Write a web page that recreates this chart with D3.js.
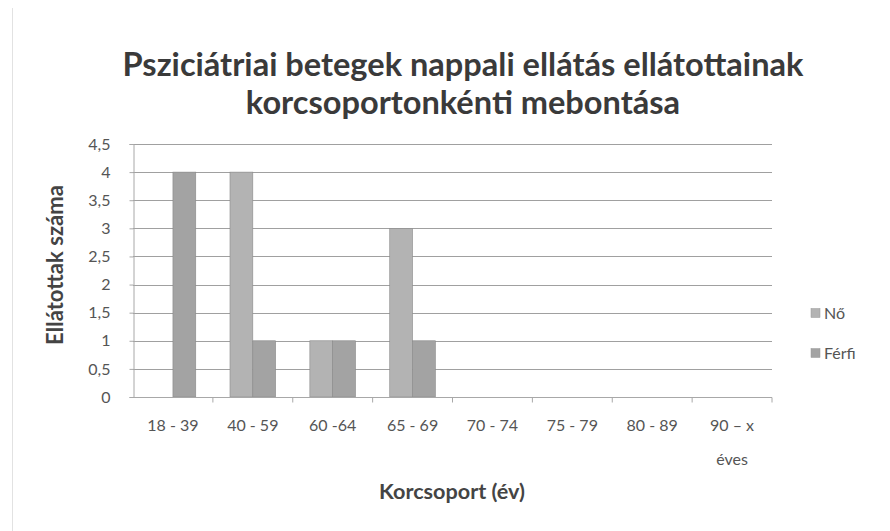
<!DOCTYPE html>
<html>
<head>
<meta charset="utf-8">
<script src="https://cdn.jsdelivr.net/npm/d3@7"></script>
<style>
  html, body { margin: 0; padding: 0; background: #fff; }
  svg { display: block; }
  text { font-family: Lato, "Open Sans", sans-serif; }
</style>
</head>
<body>
<svg id="chart" width="890" height="531"></svg>
<script>
// Age groups (the last one is split over two lines)
const categories = ["18 - 39", "40 - 59", "60 -64", "65 - 69", "70 - 74", "75 - 79", "80 - 89", "90 – x\néves"];
const seriesNames = ["Nő", "Férfi"];
const noValues = [0, 4, 1, 3, 0, 0, 0, 0];
const ferfiValues = [4, 1, 1, 1, 0, 0, 0, 0];
const yTicks = [0, 0.5, 1, 1.5, 2, 2.5, 3, 3.5, 4, 4.5];
const seriesColors = ["#b3b3b3", "#a3a3a3"];

const svg = d3.select("#chart");
const plot = { left: 133, right: 772, top: 144, bottom: 397 };

// Shrinks or grows a text's font until it spans the wanted width
function fitWidth(sel, width) {
  sel.each(function () {
    const t = d3.select(this);
    const fs = parseFloat(t.style("font-size"));
    const w = this.getComputedTextLength();
    t.style("font-size", (fs * width / w).toFixed(2) + "px");
  });
}

// Faint page edge on the left
svg.append("line")
  .attr("x1", 12.5).attr("x2", 12.5).attr("y1", 8).attr("y2", 531)
  .attr("stroke", "#e2e2e2").attr("stroke-width", 1);

const x = d3.scaleBand().domain(categories).range([plot.left, plot.right]).paddingInner(0).paddingOuter(0);
const y = d3.scaleLinear().domain([0, 4.5]).range([plot.bottom, plot.top]);

// Two bars per group with a 150% gap (0.75 bar width on each side)
const x1 = d3.scaleBand().domain(seriesNames).range([0, x.bandwidth()])
  .paddingInner(0).paddingOuter(0.75);

// Horizontal gridlines
svg.append("g").selectAll("line")
  .data(yTicks.filter(d => d > 0))
  .join("line")
  .attr("x1", plot.left).attr("x2", plot.right)
  .attr("y1", d => Math.round(y(d)) + 0.5).attr("y2", d => Math.round(y(d)) + 0.5)
  .attr("stroke", "#a0a0a0").attr("stroke-width", 1);

// Y axis
const yAxis = d3.axisLeft(y).tickValues(yTicks).tickSize(4).tickPadding(19)
  .tickFormat(d => String(d).replace(".", ","));
const gy = svg.append("g").attr("transform", `translate(${plot.left + 0.5},0)`).call(yAxis);
gy.select(".domain").attr("stroke", "#a8a8a8");
gy.selectAll(".tick line").attr("stroke", "#a8a8a8");
gy.selectAll(".tick text").attr("fill", "#555").style("font-size", "16px");

// Bars
const rows = categories.map((c, i) => ({ cat: c, vals: [noValues[i], ferfiValues[i]] }));
svg.append("g").selectAll("g")
  .data(rows)
  .join("g")
  .attr("transform", d => `translate(${x(d.cat)},0)`)
  .selectAll("rect")
  .data(d => d.vals.map((v, k) => ({ name: seriesNames[k], v, k })))
  .join("rect")
  .attr("x", d => x1(d.name))
  .attr("width", x1.bandwidth())
  .attr("y", d => y(d.v))
  .attr("height", d => y(0) - y(d.v))
  .attr("fill", d => seriesColors[d.k])
  .attr("stroke", "#8a8a8a").attr("stroke-width", 0.6);

// X axis with boundary ticks
const gx = svg.append("g").attr("transform", `translate(0,${plot.bottom + 0.5})`);
gx.append("line").attr("x1", plot.left).attr("x2", plot.right)
  .attr("stroke", "#a8a8a8");
gx.selectAll("line.tk")
  .data(categories.map(c => x(c) + x.bandwidth()))
  .join("line").attr("class", "tk")
  .attr("x1", d => d).attr("x2", d => d).attr("y1", 0).attr("y2", 5)
  .attr("stroke", "#a8a8a8");
const xl = gx.selectAll("text.lbl")
  .data(categories)
  .join("text").attr("class", "lbl")
  .attr("x", d => x(d) + x.bandwidth() / 2)
  .attr("y", 33)
  .attr("text-anchor", "middle")
  .attr("fill", "#555")
  .style("font-size", "16px");
xl.selectAll("tspan")
  .data(d => d.split("\n"))
  .join("tspan")
  .attr("x", function () { return d3.select(this.parentNode).attr("x"); })
  .attr("dy", (d, i) => i === 0 ? 0 : 34)
  .text(d => d);

// Axis titles
svg.append("text")
  .attr("x", 452).attr("y", 499)
  .attr("text-anchor", "middle")
  .attr("fill", "#444")
  .style("font-size", "16px").style("font-weight", 700)
  .text("Korcsoport (év)")
  .call(fitWidth, 146);

svg.append("text")
  .attr("transform", "translate(63,265) rotate(-90)")
  .attr("text-anchor", "middle")
  .attr("fill", "#444")
  .style("font-size", "16px").style("font-weight", 700)
  .text("Ellátottak száma")
  .call(fitWidth, 160);

// Title
const titleLines = ["Psziciátriai betegek nappali ellátás ellátottainak", "korcsoportonkénti mebontása"];
const titles = svg.append("g").selectAll("text")
  .data(titleLines)
  .join("text")
  .attr("x", 463)
  .attr("y", (d, i) => 76 + i * 38)
  .attr("text-anchor", "middle")
  .attr("fill", "#3a3a3a")
  .style("font-size", "24px").style("font-weight", 700)
  .text(d => d);
fitWidth(titles.filter((d, i) => i === 0), 681);
titles.filter((d, i) => i === 1).style("font-size", titles.filter((d, i) => i === 0).style("font-size"));

// Legend
const lg = svg.append("g").selectAll("g")
  .data(seriesNames)
  .join("g")
  .attr("transform", (d, i) => `translate(811,${313 + i * 40})`);
lg.append("rect").attr("x", 0).attr("y", -4.5).attr("width", 9).attr("height", 9)
  .attr("fill", (d, i) => seriesColors[i]).attr("stroke", "#999").attr("stroke-width", 0.5);
lg.append("text").attr("x", 13).attr("y", 5.5)
  .attr("fill", "#555").style("font-size", "16px")
  .text(d => d);
</script>
</body>
</html>
